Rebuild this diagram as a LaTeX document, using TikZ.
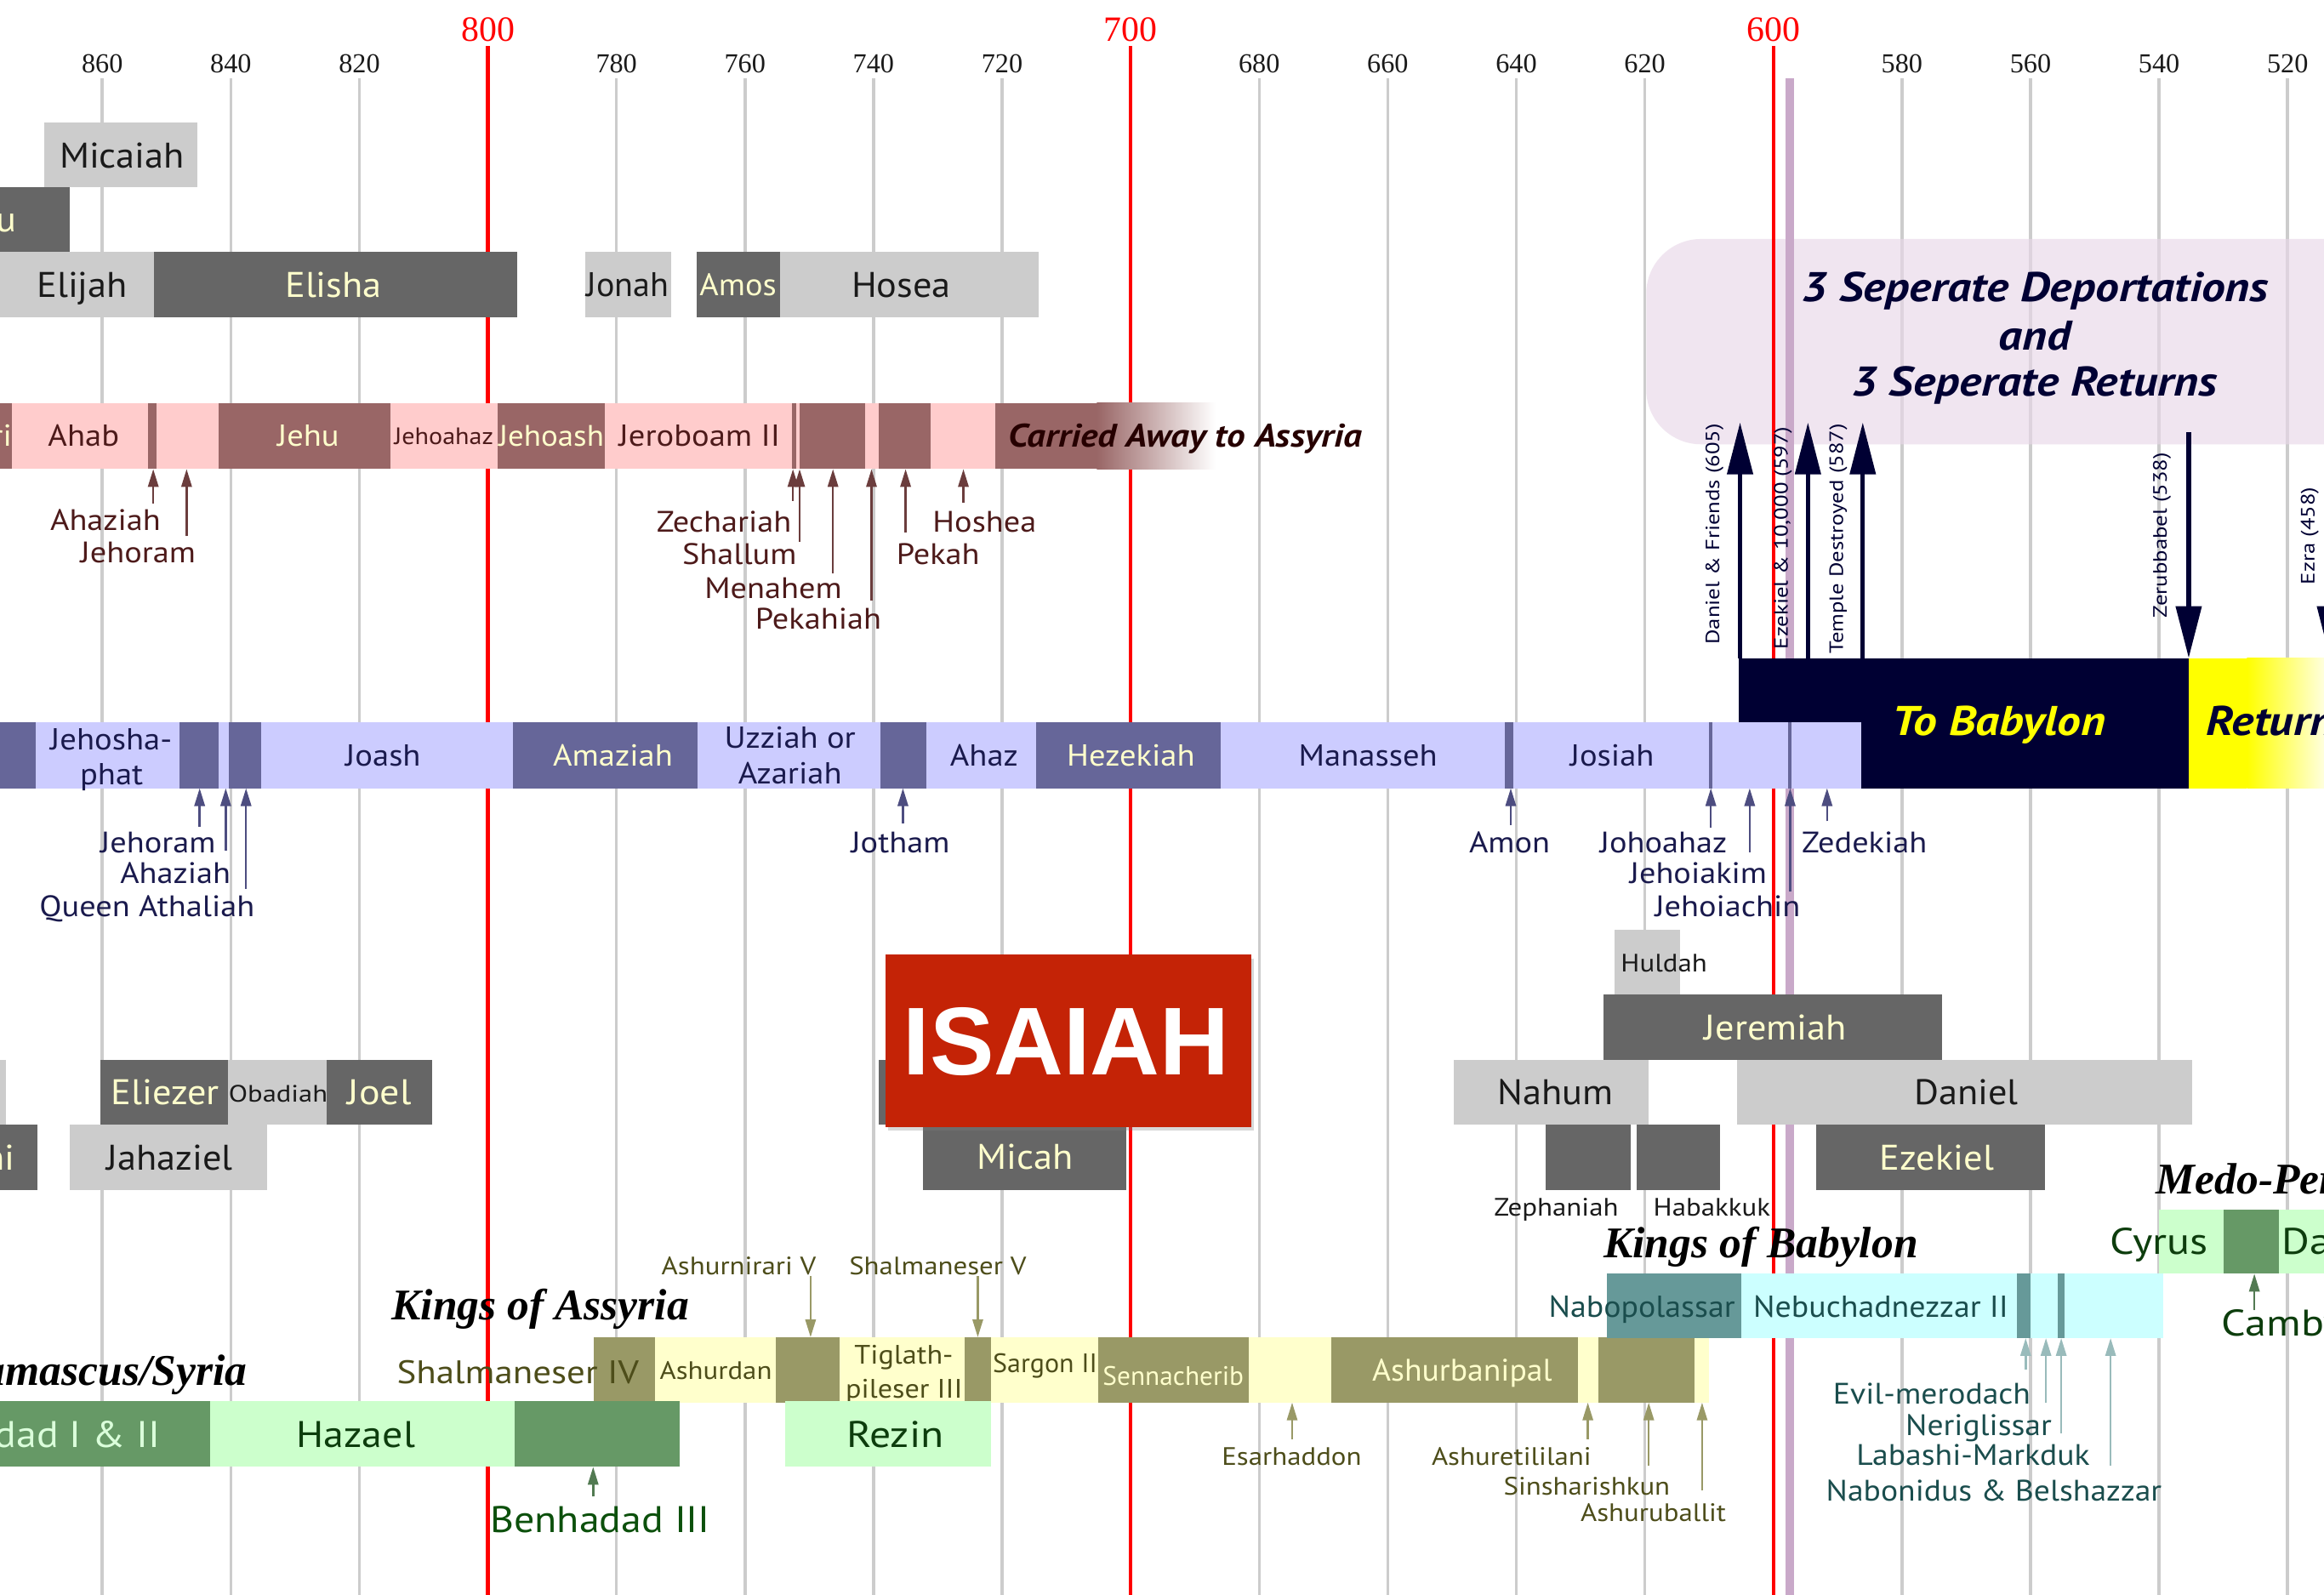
\documentclass[tikz,border=0pt]{standalone}
\usepackage{fontspec}
\usepackage{graphicx}
\setmainfont{PT Sans}
\newfontfamily\yrfont{Liberation Serif}
\newfontfamily\hdfont{Liberation Serif}
\newfontfamily\isfont{Liberation Sans}
\usetikzlibrary{arrows.meta,shadows}

\definecolor{gridc}{HTML}{CCCCCC}
\definecolor{redc}{HTML}{FF0000}
\definecolor{purc}{HTML}{C9A9C9}
\definecolor{lgray}{HTML}{CCCCCC}
\definecolor{dgray}{HTML}{666666}
\definecolor{cream}{HTML}{FFFFCC}
\definecolor{ink}{HTML}{1A1A1A}
\definecolor{ipink}{HTML}{FFCCCC}
\definecolor{idark}{HTML}{996666}
\definecolor{itext}{HTML}{4D1A1A}
\definecolor{iarrc}{HTML}{6B3D3D}
\definecolor{jlav}{HTML}{CCCCFF}
\definecolor{jdark}{HTML}{666699}
\definecolor{jtext}{HTML}{1A1A4D}
\definecolor{jarrc}{HTML}{4D4D80}
\definecolor{navyc}{HTML}{000033}
\definecolor{deplav}{HTML}{E8D8E8}
\definecolor{aolive}{HTML}{999966}
\definecolor{ayel}{HTML}{FFFFCC}
\definecolor{atext}{HTML}{4D4D1A}
\definecolor{dgreen}{HTML}{669966}
\definecolor{lgreen}{HTML}{CCFFCC}
\definecolor{gtext}{HTML}{0D3D0D}
\definecolor{bteal}{HTML}{669999}
\definecolor{bcyan}{HTML}{CCFFFF}
\definecolor{btext}{HTML}{1A4D4D}
\definecolor{barrc}{HTML}{99BBBB}
\definecolor{isred}{HTML}{C42306}
\definecolor{yelc}{HTML}{FFFF00}

\tikzset{
  box/.style={rectangle,inner sep=0pt,outer sep=0pt,draw=none},
  lbl/.style={inner sep=0pt,outer sep=0pt},
  fs/.style={lbl,font=\fontsize{#1}{#1}\selectfont,text height={0.7*#1pt},text depth=0pt},
  bi/.style={lbl,font=\bfseries\itshape\fontsize{#1}{#1}\selectfont,text height={0.7*#1pt},text depth=0pt},
  hd/.style={lbl,font=\hdfont\bfseries\itshape\fontsize{#1}{#1}\selectfont,text height={0.66*#1pt},text depth=0pt},
  yr/.style={lbl,font=\yrfont\fontsize{#1}{#1}\selectfont,text height={0.68*#1pt},text depth=0pt},
  plab/.style={fs=24,xscale=1.06},
  klab/.style={fs=20.5,xscale=1.08},
  alab/.style={fs=20,xscale=1.1},
  slab/.style={fs=17,xscale=1.11},
  dlab/.style={fs=25,xscale=1.1},
  blab/.style={fs=20,xscale=1.08},
  mlab/.style={fs=25,xscale=1.15,text=gtext},
  deptxt/.style={bi=28,xscale=1.14},
  gridl/.style={draw=gridc,line width=2pt},
  redl/.style={draw=redc,line width=2.4pt},
  smarr/.style={line width=1.4pt,-{Triangle[width=7pt,length=12pt]}},
  iarr/.style={smarr,draw=iarrc,fill=iarrc},
  jarr/.style={smarr,draw=jarrc,fill=jarrc},
  aarr/.style={smarr,draw=aolive,fill=aolive},
  barr/.style={smarr,draw=barrc,fill=barrc},
  garr/.style={smarr,draw=dgreen!80!black,fill=dgreen!80!black},
  dep/.style={draw=navyc,line width=3pt,-{Triangle[width=17pt,length=35pt]}},
}
\newcommand\bx[6]{\node[box,fill=#6,minimum width={((#4)-(#2))*1pt},minimum height={((#5)-(#3))*1pt}] (#1) at ({((#2)+(#4))/2},{((#3)+(#5))/2}) {};}
\newcommand\tx[5]{\node[#4] (#1) at (#2,#3) {#5};}
\newcommand\arr[5]{\coordinate (#1s) at (#2,#3); \coordinate (#1e) at (#2,#4); \draw[#5] (#1s) -- (#1e);}
\newcommand\rs[1]{\scalebox{1.18}[1]{#1}}

\begin{document}
\begin{tikzpicture}[x=1pt,y=-1pt]
\useasboundingbox (0,0) rectangle (1568,1076);
\clip (0,0) rectangle (1568,1076);
\fill[white] (0,0) rectangle (1568,1076);

% ---- grid ----
\foreach \yy in {860,840,820,780,760,740,720,680,660,640,620,580,560,540,520}{
  \pgfmathsetmacro\xx{69+(860-\yy)*4.3365}
  \draw[gridl] (\xx,53) -- (\xx,1080);
  \node[yr=18.5,text=ink] (yr\yy) at (\xx,42.7) {\yy};
}
% lavender deportation panel
\node[box,fill=deplav,fill opacity=0.65,rounded corners=37pt,minimum width=520pt,minimum height=138.5pt] (deppanel) at (1370.7,230.5) {};
\foreach \yy in {800,700,600}{
  \pgfmathsetmacro\xx{69+(860-\yy)*4.3365}
  \draw[redl] (\xx,31) -- (\xx,1080);
  \node[yr=24,text=redc] (yr\yy) at (\xx,19.5) {\yy};
}
\draw[draw=purc,line width=5.8pt] (1207.7,53) -- (1207.7,1080);

% ---- upper prophets ----
\bx{micaiahB}{30}{82.5}{133}{126.5}{lgray}
\tx{micaiahT}{82.4}{105}{plab,text=ink}{Micaiah}
\bx{jehupB}{-80}{126.5}{47}{170}{dgray}
\tx{jehupT}{11}{148}{plab,text=cream,anchor=east}{Jehu}
\bx{elijahB}{0}{170}{104}{214}{lgray}
\tx{elijahT}{55.5}{192}{plab,text=ink}{Elijah}
\bx{elishaB}{104}{170}{349}{214}{dgray}
\tx{elishaT}{225}{192}{plab,text=cream}{Elisha}
\bx{jonahB}{395}{170}{453}{214}{lgray}
\tx{jonahT}{423.5}{192}{fs=23,text=ink}{Jonah}
\bx{amosB}{470}{170}{526.5}{214}{dgray}
\tx{amosT}{498}{192}{fs=21,xscale=1.05,text=cream}{Amos}
\bx{hoseaB}{526.5}{170}{701}{214}{lgray}
\tx{hoseaT}{608}{192}{plab,text=ink}{Hosea}

% ---- Israel kings ----
\bx{omriB}{-80}{272}{8}{316.5}{idark}
\tx{omriT}{8}{294}{klab,text=cream,anchor=east}{Omri}
\bx{ibar}{8}{272}{671.5}{316.5}{ipink}
\bx{iaz}{99.6}{272}{105.4}{316.5}{idark}
\bx{jehuB}{147.5}{272}{263.5}{316.5}{idark}
\bx{jehoashB}{335.6}{272}{408}{316.5}{idark}
\bx{zechB}{534.5}{272}{537}{316.5}{idark}
\bx{menB}{539.5}{272}{583.7}{316.5}{idark}
\bx{pekahB}{593}{272}{628}{316.5}{idark}
\bx{carryB}{671.4}{272}{741}{316.5}{idark}
\node[box,left color=idark,right color=white,minimum width=80pt,minimum height=44.5pt] (carryF) at (780,294.25) {};
\tx{ahabT}{56.4}{294}{klab,text=itext}{Ahab}
\tx{jehuT}{208}{294}{klab,text=cream}{Jehu}
\tx{jehoahazT}{299.5}{294}{fs=16,xscale=1.08,text=itext}{Jehoahaz}
\tx{jehoashT}{372}{294}{fs=20,xscale=1.06,text=cream}{Jehoash}
\tx{jeroT}{472}{294}{klab,text=itext}{Jeroboam II}
\tx{carryT}{680.5}{294}{bi=22,xscale=1.13,text=black!85!red,anchor=west}{Carried Away to Assyria}

\arr{a1}{103.4}{339.7}{316.5}{iarr}
\arr{a2}{125.9}{361.8}{316.5}{iarr}
\arr{a3}{535}{338}{316.5}{iarr}
\arr{a4}{539.5}{365.5}{316.5}{iarr}
\arr{a5}{562}{387}{316.5}{iarr}
\arr{a6}{588}{405}{316.5}{iarr}
\arr{a7}{611}{359}{316.5}{iarr}
\arr{a8}{650}{339}{316.5}{iarr}
\tx{ahazIT}{108.4}{351}{alab,text=itext,anchor=east}{Ahaziah}
\tx{jehoramIT}{132}{372.5}{alab,text=itext,anchor=east}{Jehoram}
\tx{zechT}{534}{352}{alab,text=itext,anchor=east}{Zechariah}
\tx{shalT}{537.5}{374}{alab,text=itext,anchor=east}{Shallum}
\tx{menT}{568}{396.5}{alab,text=itext,anchor=east}{Menahem}
\tx{pekahiahT}{594.6}{417.5}{alab,text=itext,anchor=east}{Pekahiah}
\tx{hosheaT}{629.3}{352}{alab,text=itext,anchor=west}{Hoshea}
\tx{pekahT}{604.8}{374}{alab,text=itext,anchor=west}{Pekah}

% ---- deportation panel text ----
\tx{depL1}{1373}{193.4}{deptxt,text=navyc}{3 Seperate Deportations}
\tx{depL2}{1373}{226.5}{deptxt,text=navyc}{and}
\tx{depL3}{1372.6}{257.4}{deptxt,text=navyc}{3 Seperate Returns}

% ---- Babylon exile / return bar ----
\bx{babB}{1173}{444}{1476.8}{531.8}{navyc}
\bx{retB}{1476.8}{444}{1516}{531.8}{yelc}
\node[box,left color=yelc,right color=white,minimum width=60pt,minimum height=87.8pt] (retF) at (1546,487.9) {};
\tx{babT}{1348.7}{486.4}{deptxt,text=yelc}{To Babylon}
\tx{retT}{1488.7}{486.4}{deptxt,text=navyc,anchor=west}{Return}

% ---- Judah kings ----
\bx{asaB}{-80}{487.5}{24}{531.8}{jdark}
\bx{jbar}{24}{487.5}{1255.6}{531.8}{jlav}
\bx{jj1}{121}{487.5}{147.6}{531.8}{jdark}
\bx{jj2}{154.3}{487.5}{176}{531.8}{jdark}
\bx{amazB}{346.3}{487.5}{470.5}{531.8}{jdark}
\bx{jothB}{594}{487.5}{625}{531.8}{jdark}
\bx{hezB}{699}{487.5}{823.7}{531.8}{jdark}
\bx{amonB}{1015}{487.5}{1020.8}{531.8}{jdark}
\bx{jz1}{1153}{487.5}{1155.4}{531.8}{jdark}
\bx{jz2}{1206.6}{487.5}{1208.8}{531.8}{jdark}
\tx{jehoshT1}{75}{498.5}{klab,text=jtext}{Jehosha-}
\tx{jehoshT2}{75.3}{522}{klab,text=jtext}{phat}
\tx{joashT}{258.5}{509.5}{klab,text=jtext}{Joash}
\tx{amazT}{413.5}{509.5}{klab,text=cream}{Amaziah}
\tx{uzzT1}{533}{497.5}{klab,text=jtext}{Uzziah or}
\tx{uzzT2}{533}{521.5}{klab,text=jtext}{Azariah}
\tx{ahazT}{664}{509.5}{klab,text=jtext}{Ahaz}
\tx{hezT}{763}{509.5}{klab,text=cream}{Hezekiah}
\tx{manT}{923}{509.5}{klab,text=jtext}{Manasseh}
\tx{josT}{1087.7}{509.5}{klab,text=jtext}{Josiah}

\arr{b1}{134.7}{557.7}{531.8}{jarr}
\arr{b2}{152.3}{574}{531.8}{jarr}
\arr{b3}{166}{599.8}{531.8}{jarr}
\arr{b4}{609.2}{555.8}{531.8}{jarr}
\arr{b5}{1019.3}{556.8}{531.8}{jarr}
\arr{b6}{1154.3}{558.6}{531.8}{jarr}
\arr{b7}{1180.5}{575}{531.8}{jarr}
\arr{b8}{1207.8}{601.7}{531.8}{jarr}
\arr{b9}{1232.7}{554}{531.8}{jarr}
\tx{jehoramJT}{145.5}{568.2}{alab,text=jtext,anchor=east}{Jehoram}
\tx{ahazJT}{155.6}{589.3}{alab,text=jtext,anchor=east}{Ahaziah}
\tx{athT}{171.8}{611.3}{alab,text=jtext,anchor=east}{Queen Athaliah}
\tx{jothT}{607.5}{568.2}{alab,text=jtext}{Jotham}
\tx{amonT}{1018.5}{568.2}{alab,text=jtext}{Amon}
\tx{johoT}{1165.2}{568.2}{alab,text=jtext,anchor=east}{Johoahaz}
\tx{jehoiakimT}{1192.1}{589.3}{alab,text=jtext,anchor=east}{Jehoiakim}
\tx{jehoiachinT}{1214.7}{611.3}{alab,text=jtext,anchor=east}{Jehoiachin}
\tx{zedT}{1215.7}{568.2}{alab,text=jtext,anchor=west}{Zedekiah}

% ---- deportation / return arrows ----
\arr{d1}{1174}{444}{285}{dep}
\arr{d2}{1219.8}{444}{285}{dep}
\arr{d3}{1256.8}{444}{285}{dep}
\arr{d4}{1476.7}{291.6}{444}{dep}
\arr{d5}{1572}{300}{444}{dep}
\tx{r1}{1155.5}{360.3}{fs=13,text=navyc,rotate=90}{\rs{Daniel \& Friends (605)}}
\tx{r2}{1201.6}{362.9}{fs=13,text=navyc,rotate=90}{\rs{Ezekiel \& 10,000 (597)}}
\tx{r3}{1239}{363.5}{fs=13,text=navyc,rotate=90}{\rs{Temple Destroyed (587)}}
\tx{r4}{1457.3}{361}{fs=13,text=navyc,rotate=90}{\rs{Zerubbabel (538)}}
\tx{r5}{1557}{361.5}{fs=13,text=navyc,rotate=90}{\rs{Ezra (458)}}

% ---- lower prophets ----
\bx{huldahB}{1089.5}{627.5}{1133.6}{671}{lgray}
\tx{huldahT}{1122.7}{650}{slab,text=ink}{Huldah}
\bx{jerB}{1081.6}{671}{1310.2}{715}{dgray}
\tx{jerT}{1198}{693}{plab,text=cream}{Jeremiah}
\bx{nahumB}{981}{715}{1112.4}{759}{lgray}
\tx{nahumT}{1049.5}{737}{plab,text=ink}{Nahum}
\bx{danielB}{1171.7}{715}{1479}{759}{lgray}
\tx{danielT}{1326.6}{737}{plab,text=ink}{Daniel}
\bx{zephB}{1042.7}{759}{1100}{803}{dgray}
\bx{habB}{1104.5}{759}{1160.4}{803}{dgray}
\bx{ezekB}{1225.2}{759}{1379.7}{803}{dgray}
\tx{ezekT}{1306.8}{781}{plab,text=cream}{Ezekiel}
\tx{zephT}{1050}{814.4}{slab,text=ink}{Zephaniah}
\tx{habT}{1155}{814.4}{slab,text=ink}{Habakkuk}

\bx{lgslB}{-80}{715}{4}{759}{lgray}
\bx{hananiB}{-80}{759}{25}{803}{dgray}
\tx{hananiT}{10}{781}{plab,text=cream,anchor=east}{Hanani}
\bx{eliezerB}{68}{715}{154}{759}{dgray}
\tx{eliezerT}{111.5}{737}{plab,text=cream}{Eliezer}
\bx{obadB}{154}{715}{220.5}{759}{lgray}
\tx{obadT}{187.7}{738}{fs=16,xscale=1.17,text=ink}{Obadiah}
\bx{joelB}{220.5}{715}{291.7}{759}{dgray}
\tx{joelT}{256}{737}{fs=24,xscale=1.1,text=cream}{Joel}
\bx{jahazB}{47}{759}{180}{803}{lgray}
\tx{jahazT}{114.5}{781}{plab,text=ink}{Jahaziel}

\bx{isaiahB}{593}{715}{700}{759}{dgray}
\bx{micahB}{622.7}{760}{759.7}{803}{dgray}
\tx{micahT}{691.4}{780.5}{plab,text=cream}{Micah}
\node[box,fill=isred,minimum width=246.6pt,minimum height=116pt,
      drop shadow={opacity=0.3,shadow xshift=2pt,shadow yshift=-2.5pt}] (isaiahR) at (720.7,702.2) {};
\node[lbl,font=\isfont\bfseries\fontsize{65}{65}\selectfont,text height={0.716*65pt},text depth=0pt,text=white] (isaiahT) at (719.4,702.1) {ISAIAH};

% ---- Kings of Assyria ----
\tx{assyH}{364.6}{880.8}{hd=29.6,text=black}{Kings of Assyria}
\bx{as1}{400.8}{902.2}{442.2}{946.3}{aolive}
\bx{as2}{442.2}{902.2}{523.3}{946.3}{ayel}
\bx{as3}{523.3}{902.2}{566.4}{946.3}{aolive}
\bx{as4}{566.4}{902.2}{650.6}{946.3}{ayel}
\bx{as5}{650.6}{902.2}{668.8}{946.3}{aolive}
\bx{as6}{668.8}{902.2}{741.2}{946.3}{ayel}
\bx{as7}{741.2}{902.2}{842.3}{946.3}{aolive}
\bx{as8}{842.3}{902.2}{898.2}{946.3}{ayel}
\bx{as9}{898.2}{902.2}{1064.5}{946.3}{aolive}
\bx{as10}{1064.5}{902.2}{1078.2}{946.3}{ayel}
\bx{as11}{1078.2}{902.2}{1143.3}{946.3}{aolive}
\bx{as12}{1143.3}{902.2}{1153.2}{946.3}{ayel}
\tx{shalIVT}{431}{925.7}{fs=22,xscale=1.12,text=atext,anchor=east}{Shalmaneser IV}
\tx{ashurdanT}{483}{924.5}{slab,text=atext}{Ashurdan}
\tx{tig1T}{609.8}{914}{fs=18,xscale=1.09,text=atext}{Tiglath-}
\tx{tig2T}{610}{936.7}{fs=18,xscale=1.09,text=atext}{pileser III}
\tx{sargonT}{705.1}{919.6}{fs=18,xscale=1.02,text=atext}{Sargon II}
\tx{sennT}{791.6}{928.4}{fs=18,text=cream}{Sennacherib}
\tx{ashbT}{986.5}{924.5}{fs=21,xscale=1.03,text=cream}{Ashurbanipal}

\arr{c1}{546.9}{860.8}{902.2}{aarr}
\arr{c2}{659.7}{860.8}{902.2}{aarr}
\arr{c3}{871.8}{971}{946.3}{aarr}
\arr{c4}{1071.3}{971}{946.3}{aarr}
\arr{c5}{1112.4}{989}{946.3}{aarr}
\arr{c6}{1148.4}{1005.6}{946.3}{aarr}
\tx{ashnT}{498.5}{853.9}{slab,text=atext}{Ashurnirari V}
\tx{shalVT}{632.7}{853.9}{slab,text=atext}{Shalmaneser V}
\tx{esarT}{871.5}{982.8}{slab,text=atext}{Esarhaddon}
\tx{ashuT}{1019.8}{982.8}{slab,text=atext}{Ashuretililani}
\tx{sinT}{1070.6}{1003}{slab,text=atext}{Sinsharishkun}
\tx{ashubT}{1115.5}{1020.3}{slab,text=atext}{Ashuruballit}

% ---- Damascus / Syria ----
\tx{damH}{166.7}{925}{hd=29.6,text=black,anchor=east}{Kings of Damascus/Syria}
\bx{dm1}{-100}{945.5}{141.5}{989.7}{dgreen}
\bx{dm2}{141.5}{945.5}{347}{989.7}{lgreen}
\bx{dm3}{347}{945.5}{458.8}{989.7}{dgreen}
\bx{rezinB}{530}{945.5}{668.8}{989.7}{lgreen}
\tx{bh12T}{108}{967.7}{dlab,text=lgreen!70!white,anchor=east}{Benhadad I \& II}
\tx{hazaelT}{240.1}{967.7}{dlab,text=gtext}{Hazael}
\tx{rezinT}{604}{968}{fs=25,xscale=1.14,text=gtext}{Rezin}
\arr{g1}{400.2}{1009.8}{989.7}{garr}
\tx{bh3T}{405}{1025}{dlab,text=gtext!90!green}{Benhadad III}

% ---- Kings of Babylon ----
\tx{babH}{1188}{838.8}{hd=29.6,text=black}{Kings of Babylon}
\bx{bb1}{1084}{859.4}{1174.8}{902.8}{bteal}
\bx{bb2}{1174.8}{859.4}{1459.3}{902.8}{bcyan}
\bx{bb3}{1360.9}{859.4}{1370.2}{902.8}{bteal}
\bx{bb4}{1388.3}{859.4}{1393.1}{902.8}{bteal}
\tx{nabopT}{1107.8}{881.5}{fs=20.5,xscale=1.06,text=btext}{Nabopolassar}
\tx{nebT}{1269}{881.5}{fs=20.5,xscale=1.06,text=btext}{Nebuchadnezzar II}
\arr{e1}{1366.7}{924.3}{902.8}{barr}
\arr{e2}{1380.4}{946.4}{902.8}{barr}
\arr{e3}{1390.7}{967}{902.8}{barr}
\arr{e4}{1424}{989}{902.8}{barr}
\tx{evilT}{1303.4}{940.3}{blab,text=btext}{Evil-merodach}
\tx{neriT}{1335}{961.5}{blab,text=btext}{Neriglissar}
\tx{labT}{1331.3}{981.7}{blab,text=btext}{Labashi-Markduk}
\tx{naboT}{1345.3}{1005.7}{blab,text=btext}{Nabonidus \& Belshazzar}

% ---- Medo-Persia ----
\tx{medoH}{1454.8}{796}{hd=29.6,text=black,anchor=west}{Medo-Persia}
\bx{mp1}{1456.9}{816.1}{1600}{859.4}{lgreen}
\bx{mp2}{1500.4}{816.1}{1537.4}{859.4}{dgreen}
\tx{cyrusT}{1456.9}{837.3}{mlab}{Cyrus}
\tx{dariusT}{1539.8}{837.3}{mlab,anchor=west}{Darius}
\arr{m1}{1521}{884}{859.4}{garr}
\tx{cambT}{1499}{892.5}{mlab,anchor=west}{Cambyses}
\end{tikzpicture}
\end{document}
